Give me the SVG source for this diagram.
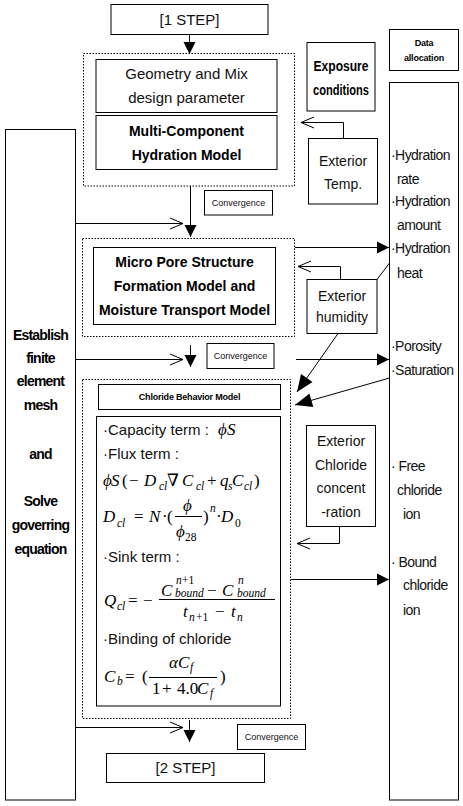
<svg xmlns="http://www.w3.org/2000/svg" width="463" height="806" viewBox="0 0 463 806">
<style>
.bx{fill:#fff;stroke:#000;stroke-width:1}
.dt{fill:none;stroke:#000;stroke-width:1;stroke-dasharray:1.5 1.5}
.ln{fill:none;stroke:#000;stroke-width:1}
.t{font-family:"Liberation Sans",Arial,sans-serif;font-size:14px;fill:#111}
.c{text-anchor:middle}
.b{font-weight:bold;fill:#000}
.s9{font-size:9px}
.s15{font-size:15px}
.r{font-size:14px;letter-spacing:-0.55px}
.lc{letter-spacing:-0.8px}
.m{font-family:"Liberation Serif","DejaVu Serif",serif;font-style:italic;font-size:17px;fill:#000}
.u{font-style:normal}
.sb{font-size:11.5px}
</style>
<defs>
<marker id="fa" markerUnits="userSpaceOnUse" markerWidth="12" markerHeight="12" refX="12" refY="6" orient="auto" overflow="visible"><path d="M0,0 L12,6 L0,12 z" fill="#000"/></marker>
<marker id="fb" markerUnits="userSpaceOnUse" markerWidth="17" markerHeight="14" refX="17" refY="7" orient="auto" overflow="visible"><path d="M0,0 L17,7 L0,14 z" fill="#000"/></marker>
<marker id="oa" markerUnits="userSpaceOnUse" markerWidth="14" markerHeight="12" refX="13" refY="5.5" orient="auto" overflow="visible"><path d="M0,0 L13,5.5 L0,11" fill="none" stroke="#000" stroke-width="1"/></marker>
</defs>

<g id="dotted-groups">
<rect class="dt" x="83.5" y="53.5" width="211" height="132.5"/>
<rect class="dt" x="82.5" y="238.5" width="212" height="98"/>
<rect class="dt" x="82.5" y="379.5" width="208" height="339"/>
</g>

<g id="connectors">
<line class="ln" x1="189.5" y1="34.5" x2="189.5" y2="54" marker-end="url(#fa)"/>
<line class="ln" x1="190.5" y1="186" x2="190.5" y2="237" marker-end="url(#fa)"/>
<line class="ln" x1="190.5" y1="345" x2="190.5" y2="367" marker-end="url(#fa)"/>
<line class="ln" x1="189.5" y1="720" x2="189.5" y2="742" marker-end="url(#fa)"/>
<line class="ln" x1="75.5" y1="223.5" x2="183" y2="223.5" marker-end="url(#oa)"/>
<line class="ln" x1="75.5" y1="359.5" x2="183" y2="359.5" marker-end="url(#oa)"/>
<line class="ln" x1="75.5" y1="727.5" x2="183" y2="727.5" marker-end="url(#oa)"/>
<polyline class="ln" points="343.5,138.5 343.5,122.5 301,122.5" marker-end="url(#oa)"/>
<polyline class="ln" points="340.5,279.5 340.5,266.5 298,266.5" marker-end="url(#oa)"/>
<polyline class="ln" points="339.5,526.5 339.5,543.5 297,543.5" marker-end="url(#oa)"/>
<line class="ln" x1="295" y1="247.5" x2="389" y2="247.5" marker-end="url(#fa)"/>
<line class="ln" x1="296" y1="359.5" x2="389" y2="359.5" marker-end="url(#fa)"/>
<line class="ln" x1="291" y1="579.5" x2="389" y2="579.5" marker-end="url(#fa)"/>
<line class="ln" x1="389.5" y1="263" x2="377" y2="279.5"/>
<line class="ln" x1="338" y1="333.5" x2="297" y2="392" marker-end="url(#fb)"/>
<line class="ln" x1="389.5" y1="378" x2="295" y2="405" marker-end="url(#fb)"/>
</g>

<g id="step1"><rect class="bx" x="111" y="4.5" width="157" height="30"/><text class="t s15 c" x="189.5" y="25">[1 STEP]</text></g>

<g id="geometry"><rect class="bx" x="96" y="59.5" width="181" height="53"/>
<text class="t s15 c" x="186.5" y="79" fill="#222">Geometry and Mix</text>
<text class="t s15 c" x="186.5" y="102.5" fill="#222">design parameter</text></g>

<g id="hydration-model"><rect class="bx" x="96" y="115.5" width="181" height="54"/>
<text class="t b c" x="186.5" y="136">Multi-Component</text>
<text class="t b c" x="186.5" y="159.5">Hydration Model</text></g>

<g id="exposure"><rect class="bx" x="307" y="42.5" width="68" height="68.5"/>
<text class="t b" x="313.5" y="71" textLength="55" lengthAdjust="spacingAndGlyphs">Exposure</text>
<text class="t b" x="313" y="95" textLength="56" lengthAdjust="spacingAndGlyphs">conditions</text></g>

<g id="data-allocation"><rect class="bx" x="389.5" y="29.5" width="69" height="41"/>
<text class="t b s9 c" x="424" y="46" style="letter-spacing:-0.2px">Data</text>
<text class="t b s9 c" x="424" y="61" style="letter-spacing:-0.2px">allocation</text></g>

<g id="fem"><rect class="bx" x="5.5" y="129.5" width="70" height="670.5"/>
<text class="t b c lc" x="40.5" y="340">Establish</text>
<text class="t b c lc" x="40.5" y="363">finite</text>
<text class="t b c lc" x="40.5" y="386">element</text>
<text class="t b c lc" x="40.5" y="410">mesh</text>
<text class="t b c lc" x="40.5" y="459">and</text>
<text class="t b c lc" x="40.5" y="506">Solve</text>
<text class="t b c lc" x="40.5" y="530">goverring</text>
<text class="t b c lc" x="40.5" y="554">equation</text></g>

<g id="data-column"><rect class="bx" x="389.5" y="82.5" width="69" height="717.5"/>
<text class="t r" x="391" y="159.5">·Hydration</text>
<text class="t r" x="397" y="183.5">rate</text>
<text class="t r" x="391" y="206">·Hydration</text>
<text class="t r" x="397" y="230">amount</text>
<text class="t r" x="391" y="252.5">·Hydration</text>
<text class="t r" x="397" y="278">heat</text>
<text class="t r" x="391" y="351">·Porosity</text>
<text class="t r" x="391" y="374.5">·Saturation</text>
<text class="t r" x="391" y="471">· Free</text>
<text class="t r" x="397" y="494.5">chloride</text>
<text class="t r" x="403" y="518.5">ion</text>
<text class="t r" x="391" y="567">· Bound</text>
<text class="t r" x="403" y="590">chloride</text>
<text class="t r" x="403" y="614.5">ion</text></g>

<g id="exterior-temp"><rect class="bx" x="308.5" y="138.5" width="69" height="65.5"/>
<text class="t c" x="343" y="165.5">Exterior</text>
<text class="t c" x="343" y="188.5">Temp.</text></g>

<g id="convergence1"><rect class="bx" x="204.5" y="190.5" width="68" height="24.5"/><text class="t s9 c" x="238.5" y="206">Convergence</text></g>

<g id="micro-pore"><rect class="bx" x="93.5" y="247.5" width="182" height="77"/>
<text class="t b c" x="184.5" y="267">Micro Pore Structure</text>
<text class="t b c" x="184.5" y="291">Formation Model and</text>
<text class="t b c" x="184.5" y="314.5">Moisture Transport Model</text></g>

<g id="exterior-humidity"><rect class="bx" x="307" y="279.5" width="70" height="54"/>
<text class="t c" x="342" y="300.5">Exterior</text>
<text class="t c" x="342" y="322">humidity</text></g>

<g id="convergence2"><rect class="bx" x="207" y="343.5" width="67" height="25"/><text class="t s9 c" x="240.5" y="359">Convergence</text></g>

<g id="chloride-title"><rect class="bx" x="98.5" y="384.5" width="182" height="25"/><text class="t b s9 c" x="189.5" y="400" style="letter-spacing:-0.2px">Chloride Behavior Model</text></g>

<g id="chloride-formulas"><rect class="bx" x="96.5" y="416.5" width="184" height="289.5"/>
<text class="t s15" x="103" y="435">·Capacity term :</text>
<text class="m" y="435"><tspan x="218">ϕ</tspan><tspan x="227">S</tspan></text>
<text class="t s15" x="103" y="459">·Flux term :</text>
<text class="m" y="486"><tspan x="103">ϕ</tspan><tspan x="111">S</tspan><tspan class="u" x="122">(</tspan><tspan class="u" x="129">−</tspan><tspan x="144">D</tspan><tspan class="sb" x="159" y="490">cl</tspan><tspan class="u" x="167" y="486">∇</tspan><tspan x="182">C</tspan><tspan class="sb" x="196" y="490">cl</tspan><tspan class="u" x="207" y="486">+</tspan><tspan x="220">q</tspan><tspan class="sb" x="228" y="490">s</tspan><tspan x="232" y="486">C</tspan><tspan class="sb" x="244" y="490">cl</tspan><tspan class="u" x="254" y="486">)</tspan></text>
<text class="m" y="522"><tspan x="103">D</tspan><tspan class="sb" x="117" y="527">cl</tspan><tspan class="u" x="134" y="522">=</tspan><tspan x="149">N</tspan><tspan class="u" x="162">·</tspan><tspan class="u" x="167">(</tspan><tspan x="183" y="511">ϕ</tspan><tspan x="176" y="537">ϕ</tspan><tspan class="u sb" x="185" y="541">28</tspan><tspan class="u" x="203" y="522">)</tspan><tspan class="sb" x="210" y="512">n</tspan><tspan class="u" x="216" y="522">·</tspan><tspan x="221">D</tspan><tspan class="u sb" x="235" y="527">0</tspan></text>
<line class="ln" x1="175" y1="516.5" x2="202" y2="516.5"/>
<text class="t s15" x="103" y="562">·Sink term :</text>
<text class="m" y="606"><tspan x="104">Q</tspan><tspan class="sb" x="117" y="610">cl</tspan><tspan class="u" x="128" y="606">=</tspan><tspan class="u" x="143">−</tspan>
<tspan x="161" y="596">C</tspan><tspan class="sb" x="176" y="584">n</tspan><tspan class="u sb" x="182" y="584">+1</tspan><tspan class="sb" x="175" y="597">bound</tspan><tspan class="u" x="207" y="596">−</tspan><tspan x="222" y="596">C</tspan><tspan class="sb" x="238" y="584">n</tspan><tspan class="sb" x="237" y="597">bound</tspan>
<tspan x="183" y="617">t</tspan><tspan class="sb" x="189" y="621">n</tspan><tspan class="u sb" x="196" y="621">+1</tspan><tspan class="u" x="215" y="617">−</tspan><tspan x="231" y="617">t</tspan><tspan class="sb" x="237" y="621">n</tspan></text>
<line class="ln" x1="159" y1="599.5" x2="275" y2="599.5"/>
<text class="t s15" x="103" y="644">·Binding of chloride</text>
<text class="m" y="682"><tspan x="104">C</tspan><tspan class="sb" x="117" y="685">b</tspan><tspan class="u" x="125" y="682">=</tspan><tspan class="u" x="142">(</tspan>
<tspan x="169" y="668">α</tspan><tspan x="178" y="668">C</tspan><tspan class="sb" x="190" y="671">f</tspan>
<tspan class="u" x="152" y="694">1</tspan><tspan class="u" x="162" y="694">+</tspan><tspan class="u" x="177" y="694">4.0</tspan><tspan x="197" y="694">C</tspan><tspan class="sb" x="210" y="697">f</tspan><tspan class="u" x="220" y="682">)</tspan></text>
<line class="ln" x1="149" y1="677.5" x2="217" y2="677.5"/></g>

<g id="exterior-chloride"><rect class="bx" x="306.5" y="425.5" width="69" height="101"/>
<text class="t c" x="341" y="446">Exterior</text>
<text class="t c" x="341" y="470">Chloride</text>
<text class="t c" x="341" y="493">concent</text>
<text class="t c" x="341" y="517">-ration</text></g>

<g id="convergence3"><rect class="bx" x="237.5" y="724.5" width="68" height="25"/><text class="t s9 c" x="271.5" y="740">Convergence</text></g>

<g id="step2"><rect class="bx" x="106.5" y="753.5" width="158" height="29"/><text class="t s15 c" x="185.5" y="773">[2 STEP]</text></g>
</svg>
